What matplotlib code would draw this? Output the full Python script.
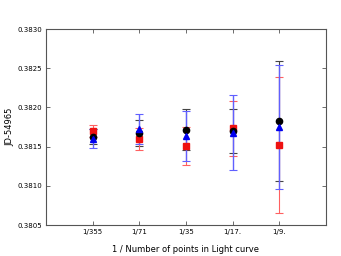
import matplotlib.pyplot as plt
import numpy as np

labels = ['1/355', '1/71', '1/35', '1/17.', '1/9.']
xpos = np.arange(1, 6)

red_y = [0.381695, 0.381593, 0.381511, 0.381733, 0.381520]
red_err = [0.000077, 0.000140, 0.000245, 0.000351, 0.000871]
black_y = [0.381626, 0.381670, 0.381716, 0.381699, 0.381827]
black_err = [0.000097, 0.000166, 0.000261, 0.000285, 0.000769]
blue_y = [0.381601, 0.381724, 0.381635, 0.381677, 0.381750]
blue_err = [0.000125, 0.000188, 0.000319, 0.000478, 0.000791]

fig = plt.figure(figsize=(3.41, 2.56), dpi=100)
ax = fig.add_axes([46/341, 31/256, 280/341, 196/256])

ax.errorbar(xpos, black_y, yerr=black_err, fmt='none', ecolor='#444444',
            elinewidth=0.8, capsize=3, capthick=0.8, zorder=1)
ax.errorbar(xpos, red_y, yerr=red_err, fmt='none', ecolor='#ff6060',
            elinewidth=0.8, capsize=3, capthick=0.8, zorder=2)
ax.errorbar(xpos, blue_y, yerr=blue_err, fmt='none', ecolor='#6060ff',
            elinewidth=1.0, capsize=3, capthick=0.8, zorder=3)
ax.plot(xpos, red_y, 's', color='#ee1111', ms=4.5, zorder=4)
ax.plot(xpos, black_y, 'o', color='black', ms=4.5, zorder=5)
ax.plot(xpos, blue_y, '^', color='#0000ee', ms=4.5, zorder=6)

ax.set_xlim(0, 6)
ax.set_ylim(0.3805, 0.3830)
ax.set_xticks(xpos)
ax.set_xticklabels(labels)
ax.set_yticks(np.arange(0.3805, 0.38301, 0.0005))
ax.set_yticklabels(['%.4f' % v for v in np.arange(0.3805, 0.38301, 0.0005)])
ax.tick_params(direction='in', top=True, right=True, labelsize=5,
               length=3, width=0.6, color='#555555', pad=3)
for s in ax.spines.values():
    s.set_color('#555555')
    s.set_linewidth(0.8)

ax.set_xlabel('1 / Number of points in Light curve', fontsize=6, labelpad=7)
ax.set_ylabel('JD-54965', fontsize=6, labelpad=2)

fig.savefig('out.png', dpi=100)
